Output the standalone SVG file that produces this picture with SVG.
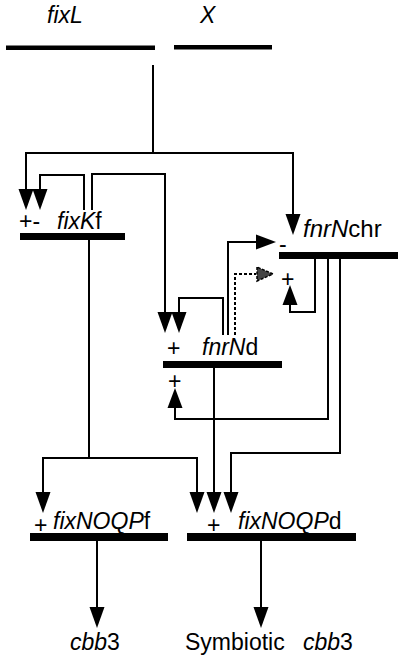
<svg xmlns="http://www.w3.org/2000/svg" width="404" height="663" viewBox="0 0 404 663">
<style>
.t{font-family:"Liberation Sans",Arial,Helvetica,sans-serif;font-size:23px;fill:#000}
.i{font-style:italic}
.bar{fill:#000}
.ln{fill:none;stroke:#000;stroke-width:2}
.ds{stroke-dasharray:3,2}
.hd{fill:#000}
</style>
<defs>
<path id="dn" d="M-7.5,-21 L7.5,-21 L0,0 z"/>
<path id="up" d="M-7.5,20 L7.5,20 L0,0 z"/>
<path id="rt" d="M-20,-7.5 L-20,7.5 L0,0 z"/>
</defs>
<g id="connectors">
<path class="ln" d="M153,65 V153"/>
<path class="ln" d="M153,153 H26 V205"/>
<path class="ln" d="M153,153 H293 V230"/>
<path class="ln" d="M84,210 V175 H40 V205"/>
<path class="ln" d="M92,210 V174 H165 V328"/>
<path class="ln" d="M223,335 V298 H179 V328"/>
<path class="ln" d="M228,335 V242 H270"/>
<path class="ln ds" d="M235,335 V274 H256"/>
<path class="ln" d="M315,259 V312 H290 V290"/>
<path class="ln" d="M328,259 V419 H175 V393"/>
<path class="ln" d="M340,259 V453 H231 V508"/>
<path class="ln" d="M214,368 V508"/>
<path class="ln" d="M89,240 V458"/>
<path class="ln" d="M89,458 H43 V508"/>
<path class="ln" d="M89,458 H197 V508"/>
<path class="ln" d="M97,541 V623"/>
<path class="ln" d="M261,541 V623"/>
<use href="#dn" class="hd" x="26" y="210"/>
<use href="#dn" class="hd" x="40" y="210"/>
<use href="#dn" class="hd" x="293" y="235"/>
<use href="#dn" class="hd" x="165" y="333"/>
<use href="#dn" class="hd" x="179" y="333"/>
<use href="#rt" class="hd" x="276" y="242"/>
<path d="M257,267 L257,281 L273,274 z" fill="#444" stroke="#000" stroke-width="1.5" stroke-dasharray="3,1.5"/>
<use href="#up" class="hd" x="290" y="285"/>
<use href="#up" class="hd" x="175" y="388"/>
<use href="#dn" class="hd" x="43" y="513"/>
<use href="#dn" class="hd" x="197" y="513"/>
<use href="#dn" class="hd" x="214" y="513"/>
<use href="#dn" class="hd" x="231" y="513"/>
<use href="#dn" class="hd" x="97" y="628"/>
<use href="#dn" class="hd" x="261" y="628"/>
</g>
<g id="fixL">
<rect class="bar" x="6" y="45.5" width="149" height="4.5"/>
<text class="t i" x="47" y="23">fixL</text>
</g>
<g id="X">
<rect class="bar" x="174" y="45" width="98" height="4.5"/>
<text class="t i" x="200" y="23">X</text>
</g>
<g id="fixKf">
<rect class="bar" x="20" y="233" width="105" height="7"/>
<text class="t" x="19" y="229">+-</text>
<text class="t" x="57" y="229"><tspan class="i">fixK</tspan>f</text>
</g>
<g id="fnrNchr">
<rect class="bar" x="279" y="252" width="119" height="7"/>
<text class="t" x="303" y="237" style="font-size:24px"><tspan class="i">fnrN</tspan>chr</text>
<text class="t" x="279" y="252">-</text>
<text class="t" x="281" y="287">+</text>
</g>
<g id="fnrNd">
<rect class="bar" x="163" y="361" width="119" height="7"/>
<text class="t" x="167" y="356">+</text>
<text class="t" x="202" y="355"><tspan class="i">fnrN</tspan>d</text>
<text class="t" x="168" y="389">+</text>
</g>
<g id="fixNOQPf">
<rect class="bar" x="30" y="533" width="138" height="8"/>
<text class="t" x="34" y="533">+</text>
<text class="t" x="53" y="529"><tspan class="i">fixNOQP</tspan>f</text>
</g>
<g id="fixNOQPd">
<rect class="bar" x="187" y="533" width="169" height="8"/>
<text class="t" x="207" y="533">+</text>
<text class="t" x="238" y="529"><tspan class="i">fixNOQP</tspan>d</text>
</g>
<g id="cbb3">
<text class="t" x="70" y="650"><tspan class="i">cbb</tspan>3</text>
</g>
<g id="symbiotic">
<text class="t" x="185" y="650">Symbiotic</text>
<text class="t" x="303" y="650"><tspan class="i">cbb</tspan>3</text>
</g>
</svg>
